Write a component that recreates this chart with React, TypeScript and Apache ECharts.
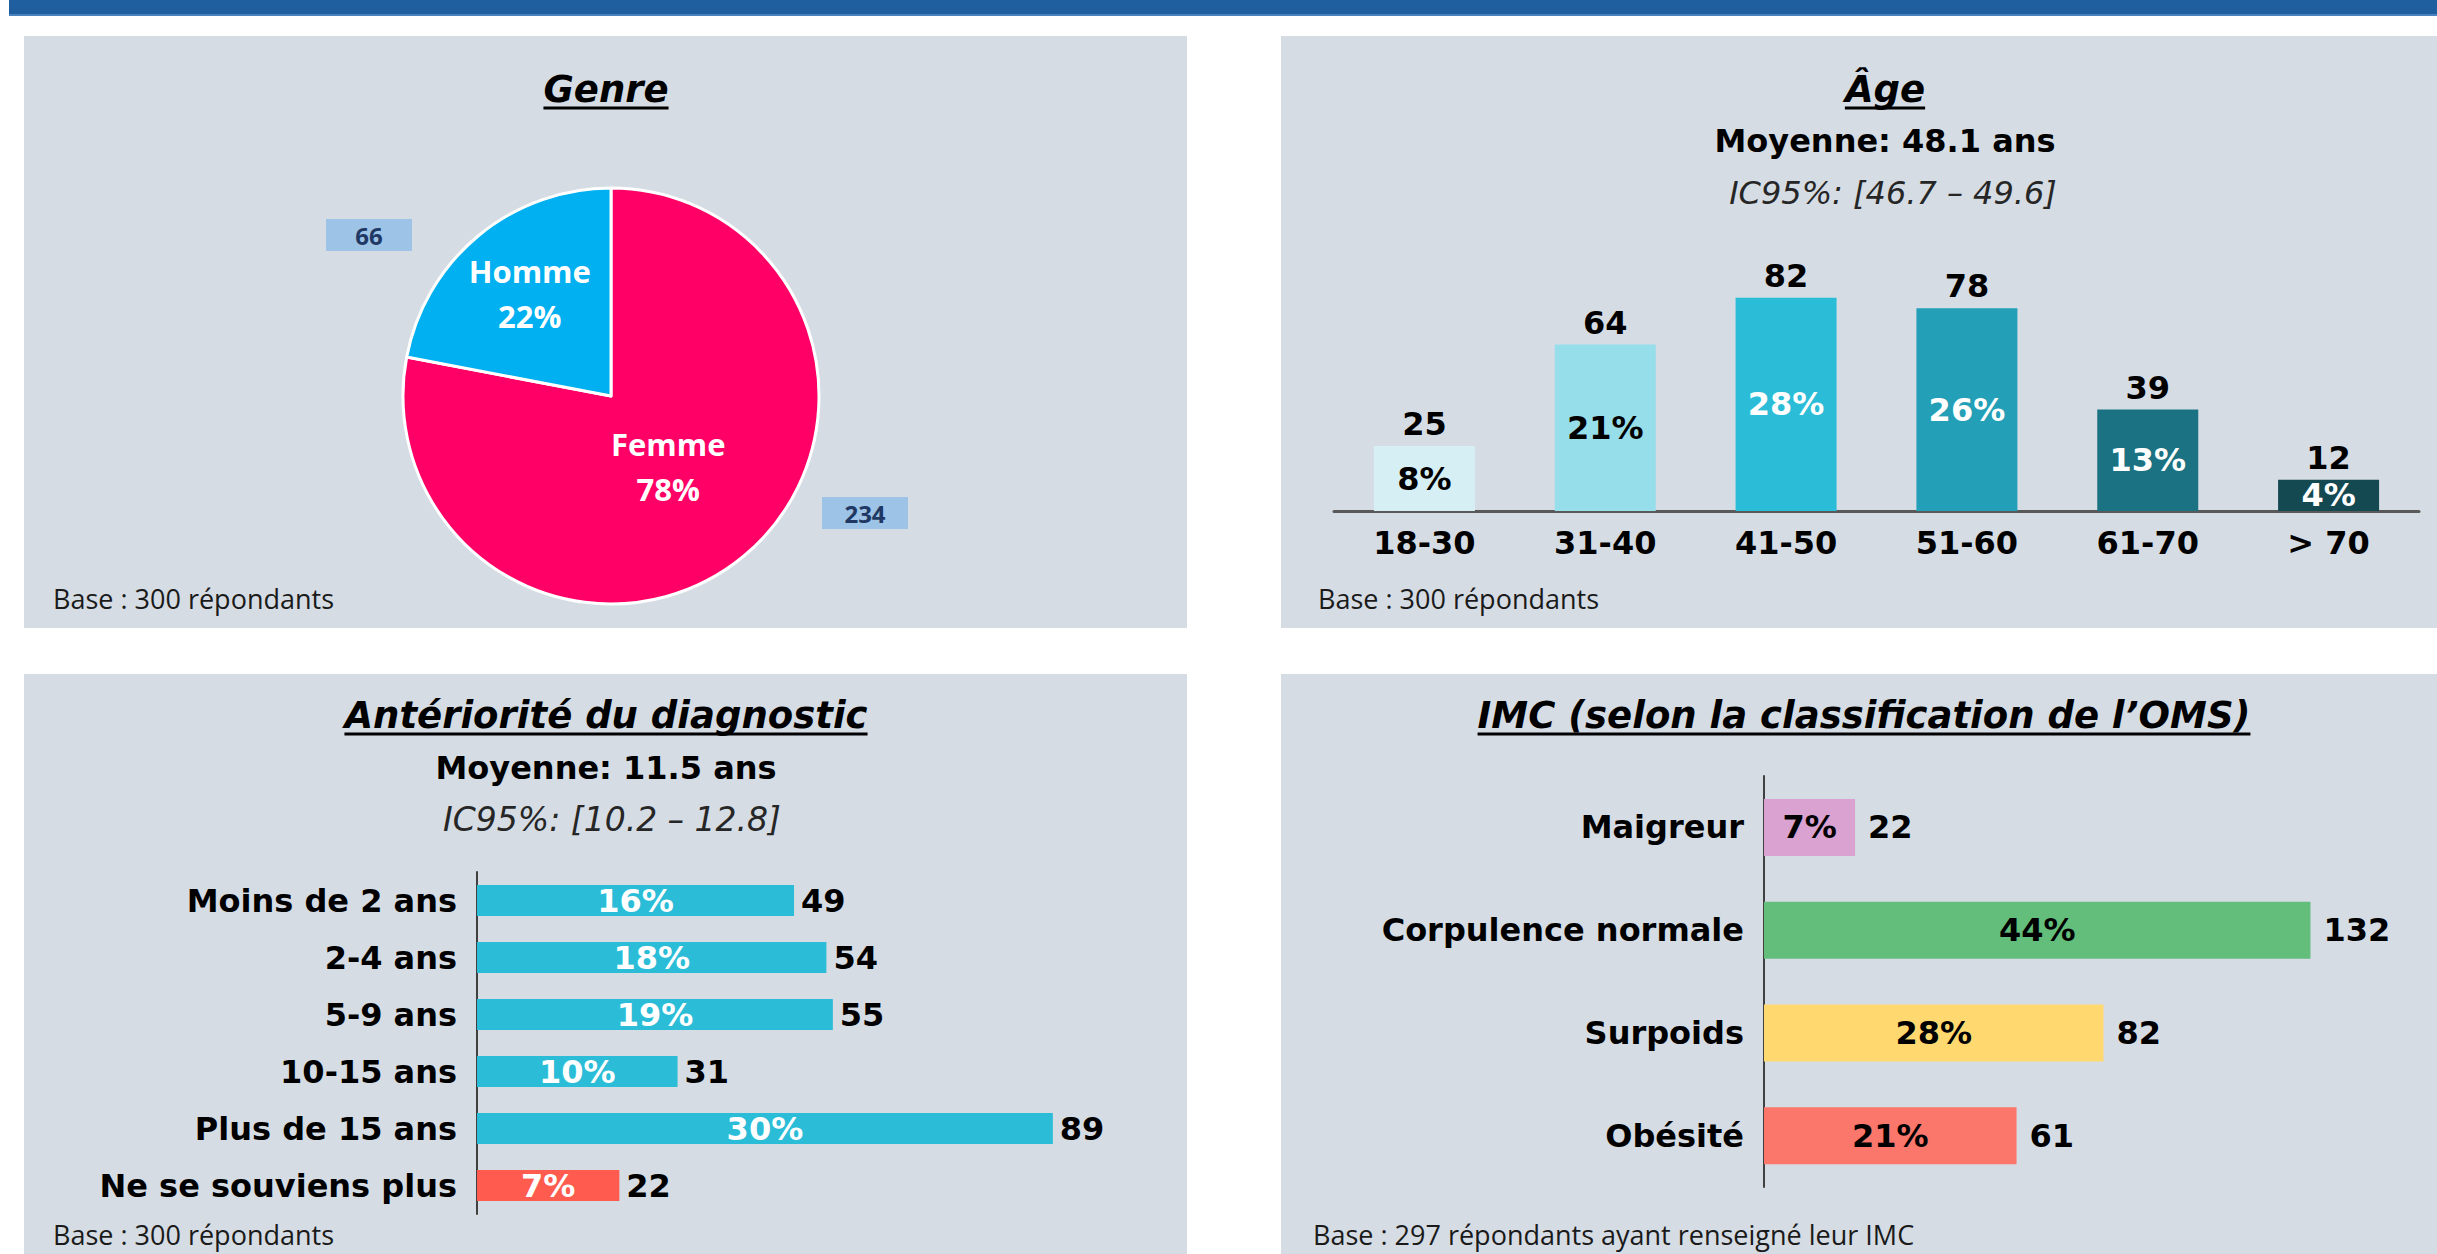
import React, { useEffect, useRef } from "react";
import * as echarts from "echarts";

// ---------- data ----------
const genreNames = ["Femme", "Homme"];
const genreValues = [234, 66];
const genrePercents = [78, 22];
const genreColors = ["#FF0066", "#00B0F0"];

const ageCategories = ["18-30", "31-40", "41-50", "51-60", "61-70", "> 70"];
const ageValues = [25, 64, 82, 78, 39, 12];
const agePercents = [8, 21, 28, 26, 13, 4];
const ageColors = ["#D6EFF5", "#97DEEB", "#2BBDD7", "#23A0B7", "#1B7282", "#144952"];
const agePctColors = ["#000000", "#000000", "#FFFFFF", "#FFFFFF", "#FFFFFF", "#FFFFFF"];

const diagCategories = [
  "Moins de 2 ans",
  "2-4 ans",
  "5-9 ans",
  "10-15 ans",
  "Plus de 15 ans",
  "Ne se souviens plus",
];
const diagValues = [49, 54, 55, 31, 89, 22];
const diagPercents = [16, 18, 19, 10, 30, 7];
const diagColors = ["#2BBDD7", "#2BBDD7", "#2BBDD7", "#2BBDD7", "#2BBDD7", "#FF5B4F"];

const imcCategories = ["Maigreur", "Corpulence normale", "Surpoids", "Obésité"];
const imcValues = [22, 132, 82, 61];
const imcPercents = [7, 44, 28, 21];
const imcColors = ["#D9A2D0", "#63BE7B", "#FFD96F", "#FB766B"];

const titles = ["Genre", "Âge", "Antériorité du diagnostic", "IMC (selon la classification de l’OMS)"];
const ageMean = "Moyenne: 48.1 ans";
const ageCI = "IC95%: [46.7 – 49.6]";
const diagMean = "Moyenne: 11.5 ans";
const diagCI = "IC95%: [10.2 – 12.8]";
const base300 = "Base : 300 répondants";
const base297 = "Base : 297 répondants ayant renseigné leur IMC";

// ---------- styling ----------
const V = '"DejaVu Sans", Verdana, sans-serif';
const C = '"Open Sans", "Noto Sans", sans-serif';
const PANEL = "#D5DCE4";

function measure(text: string, font: string): number {
  const c = document.createElement("canvas");
  const ctx = c.getContext("2d");
  if (!ctx) return text.length * 20;
  ctx.font = font;
  return ctx.measureText(text).width;
}

function titleEls(text: string, cx: number, cy: number) {
  const size = 37;
  const font = `italic bold ${size}px "DejaVu Sans"`;
  const w = measure(text, font);
  return [
    {
      type: "text",
      x: cx,
      y: cy,
      z: 10,
      style: {
        text,
        fill: "#000",
        fontFamily: V,
        fontSize: size,
        fontWeight: "bold",
        fontStyle: "italic",
        align: "center",
        verticalAlign: "middle",
        textAlign: "center",
        textVerticalAlign: "middle",
      },
    },
    {
      type: "line",
      z: 10,
      shape: { x1: cx - w / 2, y1: cy + 19, x2: cx + w / 2, y2: cy + 19 },
      style: { stroke: "#000", lineWidth: 3 },
    },
  ];
}

function textEl(
  text: string,
  x: number,
  y: number,
  opts: { size: number; family: string; weight?: string; style?: string; align?: string; color?: string }
) {
  return {
    type: "text",
    x,
    y,
    z: 10,
    style: {
      text,
      fill: opts.color || "#000",
      fontFamily: opts.family,
      fontSize: opts.size,
      fontWeight: opts.weight || "normal",
      fontStyle: opts.style || "normal",
      align: opts.align || "center",
      verticalAlign: "middle",
      textAlign: opts.align || "center",
      textVerticalAlign: "middle",
    },
  };
}

const boldLabel = { fontFamily: V, fontWeight: "bold", fontSize: 32, color: "#000" };

export default function App() {
  const ref = useRef<HTMLDivElement>(null);

  useEffect(() => {
    if (!ref.current) return;
    const chart = echarts.init(ref.current, null, { renderer: "svg" });

    const boxCenters = [
      [865, 513],
      [369, 235],
    ];
    const pieLabelShift = [
      [-11, -12],
      [-13, -20],
    ];

    const option: any = {
      animation: false,
      backgroundColor: "#FFFFFF",
      grid: [
        { left: 1334, top: 251, width: 1085, height: 260 },
        { left: 477, top: 872, width: 647, height: 342 },
        { left: 1764, top: 776, width: 621, height: 411 },
      ],
      xAxis: [
        {
          type: "category",
          gridIndex: 0,
          data: ageCategories,
          axisLine: { lineStyle: { color: "#595959", width: 3 } },
          axisTick: { show: false },
          axisLabel: { ...boldLabel, margin: 16 },
        },
        { type: "value", gridIndex: 1, min: 0, max: 100, show: false },
        { type: "value", gridIndex: 2, min: 0, max: 150, show: false },
      ],
      yAxis: [
        { type: "value", gridIndex: 0, min: 0, max: 100, show: false },
        {
          type: "category",
          gridIndex: 1,
          data: diagCategories,
          inverse: true,
          axisLine: { show: true, lineStyle: { color: "#404040", width: 2 } },
          axisTick: { show: false },
          axisLabel: { ...boldLabel, margin: 20 },
        },
        {
          type: "category",
          gridIndex: 2,
          data: imcCategories,
          inverse: true,
          axisLine: { show: true, lineStyle: { color: "#404040", width: 2 } },
          axisTick: { show: false },
          axisLabel: { ...boldLabel, margin: 20 },
        },
      ],
      series: [
        {
          type: "pie",
          center: [611, 396],
          radius: 208,
          startAngle: 90,
          clockwise: true,
          silent: true,
          data: genreNames.map((n, i) => ({
            name: n,
            value: genreValues[i],
            itemStyle: { color: genreColors[i] },
          })),
          itemStyle: { borderColor: "#FFFFFF", borderWidth: 3 },
          label: {
            show: true,
            position: "inside",
            formatter: (p: any) => `${p.name}\n${genrePercents[p.dataIndex]}%`,
            color: "#FFFFFF",
            fontFamily: C,
            fontWeight: "bold",
            fontSize: 31,
            lineHeight: 45,
          },
          labelLine: { show: false },
          labelLayout: (p: any) => ({
            dx: pieLabelShift[p.dataIndex][0],
            dy: pieLabelShift[p.dataIndex][1],
          }),
        },
        {
          type: "pie",
          center: [611, 396],
          radius: 208,
          startAngle: 90,
          clockwise: true,
          silent: true,
          data: genreNames.map((n, i) => ({ name: n, value: genreValues[i] })),
          itemStyle: { color: "rgba(0,0,0,0)", borderWidth: 0 },
          label: {
            show: true,
            position: "outside",
            formatter: "{c}",
            backgroundColor: "#9DC3E6",
            color: "#1F3864",
            fontFamily: C,
            fontWeight: "bold",
            fontSize: 24,
            width: 86,
            height: 32,
            lineHeight: 32,
            align: "center",
          },
          labelLine: { show: false },
          labelLayout: (p: any) => ({
            x: boxCenters[p.dataIndex][0],
            y: boxCenters[p.dataIndex][1],
            align: "center",
            verticalAlign: "middle",
          }),
        },
        // Age
        {
          type: "bar",
          xAxisIndex: 0,
          yAxisIndex: 0,
          barWidth: 101,
          barGap: "-100%",
          silent: true,
          data: ageValues.map((v, i) => ({ value: v, itemStyle: { color: ageColors[i] } })),
          label: { show: true, position: "top", distance: 6, formatter: "{c}", ...boldLabel },
        },
        {
          type: "bar",
          xAxisIndex: 0,
          yAxisIndex: 0,
          barWidth: 101,
          barGap: "-100%",
          silent: true,
          itemStyle: { color: "rgba(0,0,0,0)" },
          data: ageValues.map((v, i) => ({ value: v, label: { color: agePctColors[i] } })),
          label: {
            show: true,
            position: "inside",
            formatter: (p: any) => `${agePercents[p.dataIndex]}%`,
            fontFamily: V,
            fontWeight: "bold",
            fontSize: 32,
          },
        },
        // Diagnostic
        {
          type: "bar",
          xAxisIndex: 1,
          yAxisIndex: 1,
          barWidth: 31,
          barGap: "-100%",
          silent: true,
          data: diagValues.map((v, i) => ({ value: v, itemStyle: { color: diagColors[i] } })),
          label: { show: true, position: "right", distance: 7, formatter: "{c}", ...boldLabel },
        },
        {
          type: "bar",
          xAxisIndex: 1,
          yAxisIndex: 1,
          barWidth: 31,
          barGap: "-100%",
          silent: true,
          itemStyle: { color: "rgba(0,0,0,0)" },
          data: diagValues,
          label: {
            show: true,
            position: "inside",
            formatter: (p: any) => `${diagPercents[p.dataIndex]}%`,
            fontFamily: V,
            fontWeight: "bold",
            fontSize: 32,
            color: "#FFFFFF",
          },
        },
        // IMC
        {
          type: "bar",
          xAxisIndex: 2,
          yAxisIndex: 2,
          barWidth: 57,
          barGap: "-100%",
          silent: true,
          data: imcValues.map((v, i) => ({ value: v, itemStyle: { color: imcColors[i] } })),
          label: { show: true, position: "right", distance: 13, formatter: "{c}", ...boldLabel },
        },
        {
          type: "bar",
          xAxisIndex: 2,
          yAxisIndex: 2,
          barWidth: 57,
          barGap: "-100%",
          silent: true,
          itemStyle: { color: "rgba(0,0,0,0)" },
          data: imcValues,
          label: {
            show: true,
            position: "inside",
            formatter: (p: any) => `${imcPercents[p.dataIndex]}%`,
            ...boldLabel,
          },
        },
      ],
      graphic: [
        { type: "rect", z: -10, shape: { x: 9, y: 0, width: 2428, height: 15 }, style: { fill: "#1F5F9F" } },
        { type: "rect", z: -10, shape: { x: 9, y: 14, width: 2428, height: 2 }, style: { fill: "#4A82BF" } },
        { type: "rect", z: -10, shape: { x: 24, y: 36, width: 1163, height: 592 }, style: { fill: PANEL } },
        { type: "rect", z: -10, shape: { x: 1281, y: 36, width: 1200, height: 592 }, style: { fill: PANEL } },
        { type: "rect", z: -10, shape: { x: 24, y: 674, width: 1163, height: 600 }, style: { fill: PANEL } },
        { type: "rect", z: -10, shape: { x: 1281, y: 674, width: 1200, height: 600 }, style: { fill: PANEL } },
        ...titleEls(titles[0], 606, 89),
        ...titleEls(titles[1], 1885, 89),
        ...titleEls(titles[2], 606, 715),
        ...titleEls(titles[3], 1864, 715),
        textEl(ageMean, 1885, 141, { size: 32, family: V, weight: "bold" }),
        textEl(ageCI, 1893, 193, { size: 32, family: V, style: "italic", color: "#262626" }),
        textEl(diagMean, 606, 768, { size: 32, family: V, weight: "bold" }),
        textEl(diagCI, 612, 819, { size: 33, family: V, style: "italic", color: "#262626" }),
        textEl(base300, 53, 598, { size: 27, family: C, align: "left", color: "#1A1A1A" }),
        textEl(base300, 1318, 598, { size: 27, family: C, align: "left", color: "#1A1A1A" }),
        textEl(base300, 53, 1234, { size: 27, family: C, align: "left", color: "#1A1A1A" }),
        textEl(base297, 1313, 1234, { size: 27, family: C, align: "left", color: "#1A1A1A" }),
      ],
    };

    chart.setOption(option);
    return () => chart.dispose();
  }, []);

  return (
    <div
      ref={ref}
      style={{ position: "absolute", left: 0, top: 0, width: 2437, height: 1254 }}
    />
  );
}
